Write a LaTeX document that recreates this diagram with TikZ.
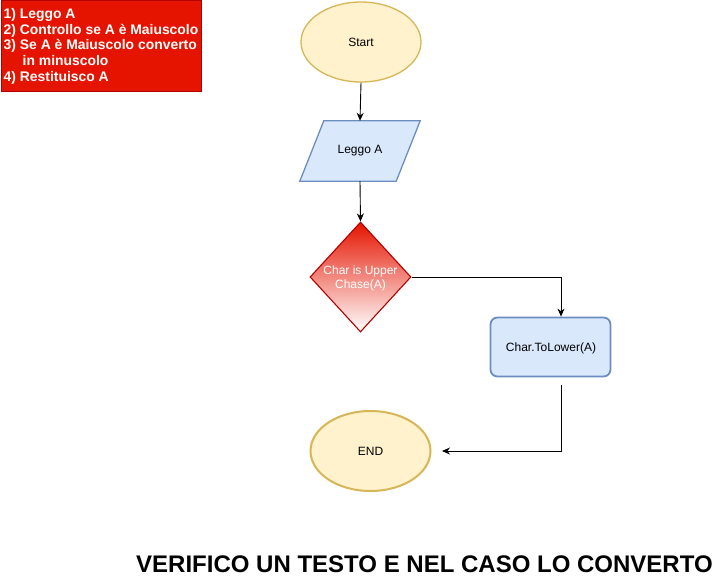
\documentclass[tikz,border=0pt]{standalone}
\usepackage{fontspec}
\setmainfont{Liberation Sans}
\usetikzlibrary{shapes.geometric,arrows.meta}
\definecolor{yfill}{HTML}{FFF2CC}
\definecolor{ydraw}{HTML}{D6B656}
\definecolor{bfill}{HTML}{DAE8FC}
\definecolor{bdraw}{HTML}{6C8EBF}
\definecolor{rfill}{HTML}{E51400}
\definecolor{rdraw}{HTML}{B20000}
\tikzset{
  x=1pt, y=-1pt,
  lbl/.style={font=\fontsize{12}{14}\selectfont, align=center, inner sep=0},
  term/.style={ellipse, fill=yfill, draw=ydraw, minimum width=120pt, minimum height=80pt, inner sep=0},
  iobox/.style={rectangle, minimum width=120pt, minimum height=60pt, inner sep=0},
  ioshape/.style={fill=bfill, draw=bdraw, line width=1.3pt, line join=miter},
  proc/.style={rectangle, rounded corners=7pt, fill=bfill, draw=bdraw, line width=1.8pt,
     minimum width=120pt, minimum height=59pt, inner sep=0},
  dec/.style={diamond, top color=rfill, bottom color=white, draw=rdraw, line width=1.1pt,
     minimum width=101pt, minimum height=110pt, inner sep=0},
  conn/.style={draw=black, line width=0.9pt, -{Stealth[length=8pt,width=7pt]}},
}
\begin{document}
\begin{tikzpicture}
\useasboundingbox (0,0) rectangle (713,578);
% note box
\node[draw=rdraw, fill=rfill, line width=0.8pt, minimum width=200pt, minimum height=90.5pt, inner sep=0, anchor=north west] (note) at (0.5,0.5) {};
\node[anchor=north west, inner sep=0, text=white, align=left, font=\bfseries\fontsize{13.9}{15.8}\selectfont] (notetxt) at (3.5,8)
  {1) Leggo A\\2) Controllo se A è Maiuscolo\\3) Se A è Maiuscolo converto\\\hspace*{19pt}in minuscolo\\4) Restituisco A};
% flow
\node[term, line width=1.3pt] (start) at (361,42) {};
\node[lbl] (starttxt) at (361,42) {Start};
\node[iobox] (leggo) at (360,151) {};
\draw[ioshape] (leggo.south west) -- ([xshift=24pt]leggo.north west) -- (leggo.north east) -- ([xshift=-24pt]leggo.south east) -- cycle;
\node[lbl] (leggotxt) at (360,151) {Leggo A};
\node[dec] (dec) at (360.5,277) {};
\node[lbl, text=white] (dectxt) at (360.5,278) {Char is Upper\\Chase(A)};
\node[proc] (box) at (550.5,347) {};
\node[lbl] (boxtxt) at (551,348) {Char.ToLower(A)};
\node[term, line width=2pt] (end) at (370.5,451) {};
\node[lbl] (endtxt) at (370.5,451) {END};
\coordinate (c1) at (561,385);
\coordinate (c2) at (442,451);
% connectors
\draw[conn] (start.south) -- (leggo.north);
\draw[conn] (leggo.south) -- (dec.north);
\draw[conn] (dec.east) -| ([xshift=10.5pt]box.north);
\draw[conn] (c1) |- (c2);
% title
\node[anchor=base west, inner sep=0, font=\bfseries\fontsize{24}{28}\selectfont] (title) at (136,572) {VERIFICO UN TESTO E NEL CASO LO CONVERTO};
\end{tikzpicture}
\end{document}
